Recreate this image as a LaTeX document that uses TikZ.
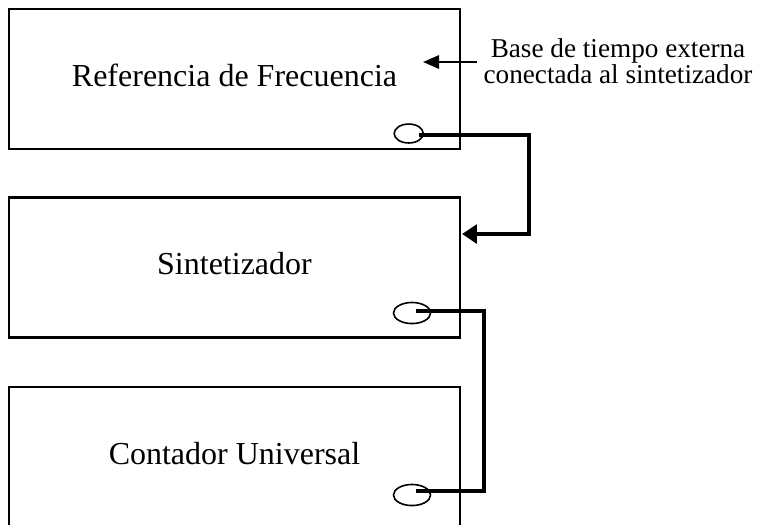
\documentclass[tikz,border=0pt]{standalone}
\usepackage{fontspec}
\setmainfont{Liberation Serif}
\usetikzlibrary{arrows.meta}
\usetikzlibrary{shapes}

\tikzset{
  block/.style={draw,line width=0.8pt,minimum width=169.1pt,minimum height=52.5pt,
    inner sep=0pt,text depth=3pt,font=\fontsize{12}{14}\selectfont},
  port/.style={draw,ellipse,line width=0.6pt,inner sep=0pt,minimum width=10.9pt,minimum height=7.1pt},
  bigport/.style={minimum width=13.9pt,minimum height=7.9pt},
  wire/.style={line width=1.5pt},
  note/.style={align=center,inner sep=2.4pt,font=\fontsize{10.2}{9.6}\selectfont}
}

\begin{document}
\begin{tikzpicture}[x=0.375pt,y=-0.375pt,>={Triangle[length=6pt,width=5pt]}]
    \useasboundingbox (0,0) rectangle (757,524);
    \node[block] (ref)  at (234.5,79)    {Referencia de Frecuencia};
    \node[block] (sint) at (234.5,267.5) {Sintetizador};
    \node[block] (cont) at (234.5,457)   {Contador Universal};
    %
    \node[port]         (refout)  at (408.7,133.5) {};
    \node[port,bigport] (sintout) at (412,313)     {};
    \node[port,bigport] (contin)  at (412,495)     {};
    %
    \node[note] (base) at (618,61) {Base de tiempo externa\\conectada al sintetizador};
    \coordinate (basetip) at (423,62);
    \draw[line width=0.75pt,->] (base.west |- basetip) -- (basetip);
    %
    \coordinate (bend1) at (529,234);
    \coordinate (sintin) at (462,234);
    \draw[wire,-{Triangle[length=5.6pt,width=7pt]}] ([xshift=3.8pt,yshift=-0.6pt]refout.center) -| (bend1) -- (sintin);
    \coordinate (bend2) at (484,491);
    \draw[wire] ([xshift=1.5pt,yshift=0.8pt]sintout.center) -| (bend2) -- ([xshift=1.5pt,yshift=1.5pt]contin.center);
\end{tikzpicture}
\end{document}
